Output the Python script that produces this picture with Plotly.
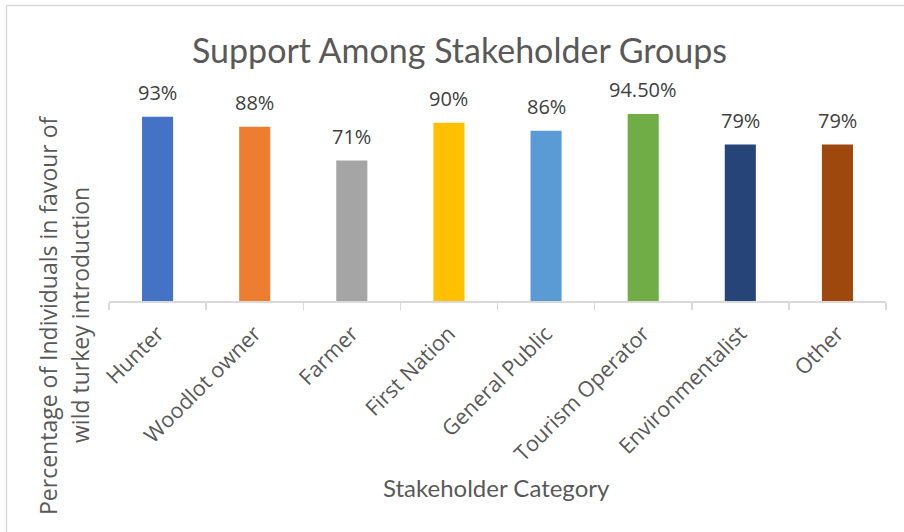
import plotly.graph_objects as go

categories = ["Hunter", "Woodlot owner", "Farmer", "First Nation", "General Public",
              "Tourism Operator", "Environmentalist", "Other"]
values = [93, 88, 71, 90, 86, 94.5, 79, 79]
labels = ["93%", "88%", "71%", "90%", "86%", "94.50%", "79%", "79%"]
colors = ["#4472C4", "#ED7D31", "#A5A5A5", "#FFC000", "#5B9BD5", "#70AD47", "#264478", "#9E480E"]

W, H = 904, 532
# plot area in screen px: x 109..886, y 103..301
L, T = 109, 103
R = W - 886
B = H - 301
pw, ph = W - L - R, H - T - B


def px(x):
    return (x - L) / pw


def py(y):
    return 1 - (y - T) / ph


fig = go.Figure()
fig.add_trace(go.Bar(x=categories, y=values, marker=dict(color=colors, line=dict(width=0)),
                     hoverinfo="skip"))

for c, v, t in zip(categories, values, labels):
    fig.add_annotation(x=c, y=v, text=t, showarrow=False, xref="x", yref="y",
                       yanchor="middle", yshift=24,
                       font=dict(family="Open Sans", size=20, color="#404040"))

fig.add_annotation(x=px(459), y=py(50), xref="paper", yref="paper",
                   text="Support Among Stakeholder Groups", showarrow=False,
                   xanchor="center", yanchor="middle",
                   font=dict(family="Lato", size=34, color="#595959"))
fig.add_annotation(x=px(496), y=py(487), xref="paper", yref="paper",
                   text="Stakeholder Category", showarrow=False,
                   xanchor="center", yanchor="middle",
                   font=dict(family="Lato", size=24, color="#595959"))
fig.add_annotation(x=px(48), y=py(315), xref="paper", yref="paper",
                   text="Percentage of Individuals in favour of", showarrow=False, textangle=-90,
                   xanchor="center", yanchor="middle",
                   font=dict(family="Open Sans", size=23, color="#595959"))
fig.add_annotation(x=px(80), y=py(315), xref="paper", yref="paper",
                   text="wild turkey introduction", showarrow=False, textangle=-90,
                   xanchor="center", yanchor="middle",
                   font=dict(family="Open Sans", size=23, color="#595959"))

# chart border (top and left)
fig.add_shape(type="line", xref="paper", yref="paper",
              x0=px(6.5), x1=px(920), y0=py(5.5), y1=py(5.5),
              line=dict(color="#D9D9D9", width=1.5))
fig.add_shape(type="line", xref="paper", yref="paper",
              x0=px(6.5), x1=px(6.5), y0=py(5.5), y1=py(560),
              line=dict(color="#D9D9D9", width=1.5))

fig.update_layout(
    width=W, height=H,
    margin=dict(l=L, r=R, t=T, b=B, pad=0),
    paper_bgcolor="white", plot_bgcolor="white",
    bargap=0.68,
    showlegend=False,
    xaxis=dict(showline=True, linecolor="#D9D9D9", linewidth=1.5,
               ticks="outside", tickson="boundaries", ticklen=7, tickcolor="#D9D9D9", tickwidth=1.5,
               tickangle=-45, ticklabelstandoff=10,
               tickfont=dict(family="Open Sans", size=21.5, color="#595959"),
               showgrid=False, zeroline=False, fixedrange=True),
    yaxis=dict(range=[0, 100], visible=False, showgrid=False, zeroline=False, fixedrange=True),
)

fig.write_html("out.html", config={"displayModeBar": False, "staticPlot": True},
               post_script="document.body.style.margin='0';document.body.style.overflow='hidden';")
